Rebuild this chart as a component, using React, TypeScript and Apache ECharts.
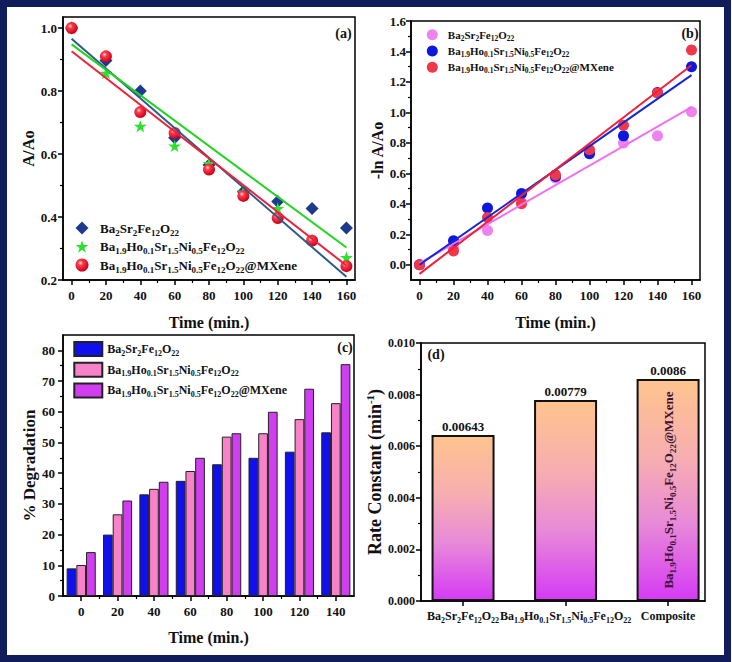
import React, { useEffect, useRef } from 'react';
import * as echarts from 'echarts';

// ---------- data ----------
const timeA = [0, 20, 40, 60, 80, 100, 120, 140, 160];
const aBaSr = [1.0, 0.897, 0.8, 0.652, 0.565, 0.48, 0.449, 0.427, 0.365];
const aHo = [1.0, 0.857, 0.688, 0.626, 0.57, 0.48, 0.427, 0.33, 0.272];
const aMx = [1.0, 0.91, 0.733, 0.667, 0.551, 0.467, 0.397, 0.325, 0.244];
const fitTime = [0, 160];
const aFitBaSr = [0.966, 0.21];
const aFitHo = [0.948, 0.303];
const aFitMx = [0.926, 0.246];

const bBaSr = [0, 0.11, 0.225, 0.41, 0.57, 0.74, 0.8, 0.846, 1.005];
const bHo = [0, 0.157, 0.372, 0.468, 0.58, 0.728, 0.846, 1.13, 1.3];
const bMx = [0, 0.09, 0.31, 0.4, 0.59, 0.755, 0.915, 1.128, 1.41];
const bFitBaSr = [0.01, 1.035];
const bFitHo = [0, 1.245];
const bFitMx = [-0.06, 1.31];

const timeC = ['0', '20', '40', '60', '80', '100', '120', '140'];
const cBaSr = [9.0, 20.0, 33.1, 37.5, 42.9, 45.0, 47.0, 53.3];
const cHo = [10.1, 26.6, 34.9, 40.7, 51.9, 53.0, 57.6, 62.8];
const cMx = [14.3, 31.1, 37.2, 45.0, 53.0, 60.0, 67.5, 75.5];

const rateNames = ['Ba_{2}Sr_{2}Fe_{12}O_{22}', 'Ba_{1.9}Ho_{0.1}Sr_{1.5}Ni_{0.5}Fe_{12}O_{22}', 'Composite'];
const rateValues = [0.00643, 0.00779, 0.0086];
const compositeFormula = 'Ba_{1.9}Ho_{0.1}Sr_{1.5}Ni_{0.5}Fe_{12}O_{22}@MXene';

const legendNames = ['Ba_{2}Sr_{2}Fe_{12}O_{22}', 'Ba_{1.9}Ho_{0.1}Sr_{1.5}Ni_{0.5}Fe_{12}O_{22}', 'Ba_{1.9}Ho_{0.1}Sr_{1.5}Ni_{0.5}Fe_{12}O_{22}@MXene'];

const xTicksAB = [0, 20, 40, 60, 80, 100, 120, 140, 160];
const xMinorAB = [10, 30, 50, 70, 90, 110, 130, 150];
const yTicksA = [0.2, 0.4, 0.6, 0.8, 1.0];
const yMinorA = [0.3, 0.5, 0.7, 0.9];
const yTicksB = [0, 0.2, 0.4, 0.6, 0.8, 1.0, 1.2, 1.4, 1.6];
const yMinorB = [0.1, 0.3, 0.5, 0.7, 0.9, 1.1, 1.3, 1.5];
const yTicksC = [0, 10, 20, 30, 40, 50, 60, 70, 80];
const yMinorC = [5, 15, 25, 35, 45, 55, 65, 75];
const xMinorC = [10, 30, 50, 70, 90, 110, 130];
const yTicksD = [0, 0.002, 0.004, 0.006, 0.008, 0.01];
const yMinorD = [0.001, 0.003, 0.005, 0.007, 0.009];
const xTicksD = [1, 2, 3];

// ---------- helpers ----------
const F = '"Liberation Serif", "Times New Roman", serif';
const INK = '#111';

function rich(s: string, n = 'n', sub = 's', lead = '') {
  const parts: string[] = [];
  if (lead) parts.push(`{${lead}|}`);
  const re = /_\{([^}]*)\}/g;
  let last = 0;
  let m: RegExpExecArray | null;
  while ((m = re.exec(s))) {
    if (m.index > last) parts.push(`{${n}|${s.slice(last, m.index)}}`);
    parts.push(`{${sub}|${m[1]}}`);
    last = re.lastIndex;
  }
  if (last < s.length) parts.push(`{${n}|${s.slice(last)}}`);
  return parts.join('');
}

function richStyles(fs: number, sfs: number, lh: number, gap = 0, color = INK) {
  return {
    n: { fontFamily: F, fontWeight: 'bold', fontSize: fs, lineHeight: lh, color },
    s: { fontFamily: F, fontWeight: 'bold', fontSize: sfs, verticalAlign: 'bottom', color },
    g: { width: gap, height: 1 },
  };
}

const labelStyle = (size: number, margin: number) => ({
  color: INK,
  fontFamily: F,
  fontWeight: 'bold',
  fontSize: size,
  margin,
});

const nameStyle = (size = 16) => ({ color: INK, fontFamily: F, fontWeight: 'bold', fontSize: size });

function mainValAxis(grid: number, min: number, max: number, ticks: number[], fmt: (v: number) => string, extra: any = {}) {
  return {
    type: 'value',
    gridIndex: grid,
    min,
    max,
    axisLine: { show: true, onZero: false, lineStyle: { color: '#000', width: 1.5 } },
    axisTick: { show: true, customValues: ticks, length: 5, lineStyle: { color: '#000', width: 1.5 } },
    axisLabel: { show: true, customValues: ticks, formatter: fmt, ...labelStyle(13, 6) },
    splitLine: { show: false },
    ...extra,
  };
}

function minorAxis(grid: number, min: number, max: number, ticks: number[], position: string) {
  return {
    type: 'value',
    gridIndex: grid,
    min,
    max,
    position,
    axisLine: { show: false, onZero: false },
    axisTick: { show: true, customValues: ticks, length: 3, lineStyle: { color: '#000', width: 1.2 } },
    axisLabel: { show: false },
    splitLine: { show: false },
  };
}

const pairs = (xs: number[], ys: number[]) => xs.map((x, i) => [x, ys[i]]);

const starPath = 'path://M50,0 L61,35 L98,35 L68,57 L79,91 L50,70 L21,91 L32,57 L2,35 L39,35 Z';

const sphere = {
  type: 'radial',
  x: 0.38,
  y: 0.35,
  r: 0.65,
  colorStops: [
    { offset: 0, color: '#ffe0e0' },
    { offset: 0.3, color: '#ff3b4a' },
    { offset: 1, color: '#c8001a' },
  ],
};

const legendMap: Record<string, string> = {};
['a', 'b', 'c'].forEach((p) => {
  legendNames.forEach((nm, i) => {
    legendMap[`${p}${i + 1}`] = rich(nm, 'n', 's', 'g');
  });
});

function buildOption(): any {
  const f1 = (v: number) => v.toFixed(1);
  const f0 = (v: number) => String(Math.round(v));
  const f3 = (v: number) => v.toFixed(3);

  const xAxis = [
    mainValAxis(0, -5, 165, xTicksAB, f0, {
      position: 'bottom',
      name: 'Time (min.)', nameLocation: 'middle', nameGap: 34, nameTextStyle: nameStyle(16),
      axisLabel: { show: true, customValues: xTicksAB, formatter: f0, ...labelStyle(13, 9) },
    }),
    minorAxis(0, -5, 165, xMinorAB, 'bottom'),
    mainValAxis(1, -5, 165, xTicksAB, f0, {
      position: 'bottom',
      name: 'Time (min.)', nameLocation: 'middle', nameGap: 34, nameTextStyle: nameStyle(16),
      axisLabel: { show: true, customValues: xTicksAB, formatter: f0, ...labelStyle(13, 9) },
    }),
    minorAxis(1, -5, 165, xMinorAB, 'bottom'),
    {
      type: 'category',
      gridIndex: 2,
      position: 'bottom',
      data: timeC,
      boundaryGap: true,
      axisLine: { show: true, onZero: false, lineStyle: { color: '#000', width: 1.5 } },
      axisTick: { show: true, alignWithLabel: true, length: 5, lineStyle: { color: '#000', width: 1.5 } },
      axisLabel: { ...labelStyle(13, 9) },
      splitLine: { show: false },
      name: 'Time (min.)', nameLocation: 'middle', nameGap: 33, nameTextStyle: nameStyle(16),
    },
    minorAxis(2, -10, 150, xMinorC, 'bottom'),
    mainValAxis(3, 0.59, 3.36, xTicksD, (v: number) => rich(rateNames[Math.round(v) - 1]), {
      position: 'bottom',
      axisLabel: {
        show: true,
        customValues: xTicksD,
        formatter: (v: number) => rich(rateNames[Math.round(v) - 1]),
        margin: 7,
        rich: richStyles(12, 8, 16),
      },
    }),
  ];

  const yAxis = [
    mainValAxis(0, 0.2, 1.035, yTicksA, f1, {
      position: 'left',
      name: 'A/Ao', nameLocation: 'middle', nameGap: 24, nameTextStyle: nameStyle(16.5),
    }),
    minorAxis(0, 0.2, 1.035, yMinorA, 'left'),
    mainValAxis(1, -0.1, 1.6, yTicksB, f1, {
      position: 'left',
      name: '-ln A/Ao', nameLocation: 'middle', nameGap: 24, nameTextStyle: nameStyle(16),
      axisLabel: { show: true, customValues: yTicksB, formatter: f1, ...labelStyle(13, 5) },
    }),
    minorAxis(1, -0.1, 1.6, yMinorB, 'left'),
    mainValAxis(2, 0, 85, yTicksC, f0, {
      position: 'left',
      name: '% Degradation', nameLocation: 'middle', nameGap: 25, nameTextStyle: nameStyle(17),
      axisLabel: { show: true, customValues: yTicksC, formatter: f0, ...labelStyle(13, 8) },
    }),
    minorAxis(2, 0, 85, yMinorC, 'left'),
    mainValAxis(3, 0, 0.01, yTicksD, f3, {
      position: 'left',
      name: '{t|Rate Constant (min}{u|-1}{t|)}', nameLocation: 'middle', nameGap: 35,
      nameTextStyle: {
        ...nameStyle(18),
        rich: {
          t: { fontFamily: F, fontWeight: 'bold', fontSize: 18, lineHeight: 22, color: INK },
          u: { fontFamily: F, fontWeight: 'bold', fontSize: 11, verticalAlign: 'top', color: INK },
        },
      },
      axisLabel: { show: true, customValues: yTicksD, formatter: f3, ...labelStyle(12, 6) },
    }),
    minorAxis(3, 0, 0.01, yMinorD, 'left'),
  ];

  const fitLine = (name: string, xi: number, yi: number, vals: number[], color: string) => ({
    type: 'line', name, xAxisIndex: xi, yAxisIndex: yi,
    data: pairs(fitTime, vals), symbol: 'none', showSymbol: false,
    lineStyle: { color, width: 2 }, itemStyle: { color }, z: 3, silent: true,
  });

  const dGradient = {
    type: 'linear', x: 0, y: 0, x2: 0, y2: 1,
    colorStops: [
      { offset: 0, color: '#ffc48e' },
      { offset: 0.35, color: '#f7aeb0' },
      { offset: 0.65, color: '#e88ad8' },
      { offset: 1, color: '#d53af5' },
    ],
  };

  const series: any[] = [
    // (a)
    { type: 'scatter', name: 'a1', xAxisIndex: 0, yAxisIndex: 0, data: pairs(timeA, aBaSr), symbol: 'diamond', symbolSize: 13, itemStyle: { color: '#1d3a8e', opacity: 1 }, z: 2 },
    { type: 'scatter', name: 'a2', xAxisIndex: 0, yAxisIndex: 0, data: pairs(timeA, aHo), symbol: starPath, symbolKeepAspect: true, symbolSize: 13, itemStyle: { color: '#2ee02e', opacity: 1 }, z: 2 },
    { type: 'scatter', name: 'a3', xAxisIndex: 0, yAxisIndex: 0, data: pairs(timeA, aMx), symbol: 'circle', symbolSize: 12, itemStyle: { color: sphere, opacity: 1 }, z: 2 },
    fitLine('aF1', 0, 0, aFitBaSr, '#2d5b88'),
    fitLine('aF2', 0, 0, aFitHo, '#22d422'),
    fitLine('aF3', 0, 0, aFitMx, '#f0203c'),
    // (b)
    { type: 'scatter', name: 'b1', xAxisIndex: 2, yAxisIndex: 2, data: pairs(timeA, bBaSr), symbol: 'circle', symbolSize: 11, itemStyle: { color: '#ee82ee', opacity: 1 }, z: 2 },
    { type: 'scatter', name: 'b2', xAxisIndex: 2, yAxisIndex: 2, data: pairs(timeA, bHo), symbol: 'circle', symbolSize: 11, itemStyle: { color: '#0c18e0', opacity: 1 }, z: 2 },
    { type: 'scatter', name: 'b3', xAxisIndex: 2, yAxisIndex: 2, data: pairs(timeA, bMx), symbol: 'circle', symbolSize: 11, itemStyle: { color: '#f03848', opacity: 1 }, z: 2 },
    fitLine('bF1', 2, 2, bFitBaSr, '#f070f0'),
    fitLine('bF2', 2, 2, bFitHo, '#1426d8'),
    fitLine('bF3', 2, 2, bFitMx, '#f0203a'),
    // (c)
    { type: 'bar', name: 'c1', xAxisIndex: 4, yAxisIndex: 4, data: cBaSr, barWidth: 9.7, barGap: '0%', itemStyle: { color: '#1010ee', borderColor: '#222', borderWidth: 1 } },
    { type: 'bar', name: 'c2', xAxisIndex: 4, yAxisIndex: 4, data: cHo, barWidth: 9.7, barGap: '0%', itemStyle: { color: '#f782c8', borderColor: '#222', borderWidth: 1 } },
    { type: 'bar', name: 'c3', xAxisIndex: 4, yAxisIndex: 4, data: cMx, barWidth: 9.7, barGap: '0%', itemStyle: { color: '#d03ef0', borderColor: '#222', borderWidth: 1 } },
    // (d)
    {
      type: 'bar', name: 'd1', xAxisIndex: 6, yAxisIndex: 6,
      data: rateValues.map((v, i) => [xTicksD[i], v]),
      barWidth: 63, barGap: '-100%',
      itemStyle: { color: dGradient, borderColor: '#111', borderWidth: 2 },
      label: {
        show: true, position: 'top', distance: 2,
        formatter: (p: any) => String(p.value[1]),
        color: INK, fontFamily: F, fontWeight: 'bold', fontSize: 13,
      },
    },
    {
      type: 'bar', name: 'd2', xAxisIndex: 6, yAxisIndex: 6,
      data: [[xTicksD[2], rateValues[2]]],
      barWidth: 63, barGap: '-100%',
      itemStyle: { color: 'rgba(0,0,0,0)' },
      label: {
        show: true, position: 'inside', rotate: 90,
        formatter: rich(compositeFormula),
        rich: richStyles(13, 9, 18, 0, '#3a1238'),
      },
      z: 5,
    },
  ];

  const legendCommon = {
    orient: 'vertical', selectedMode: false,
    formatter: (name: string) => legendMap[name],
  };

  const legend = [
    {
      ...legendCommon, data: ['a1', 'a2', 'a3'], left: 70.5, top: 216.5,
      itemWidth: 13, itemHeight: 13, itemGap: 3,
      textStyle: { fontFamily: F, fontWeight: 'bold', fontSize: 13, rich: richStyles(13, 9, 18, 6.5) },
    },
    {
      ...legendCommon, data: ['b1', 'b2', 'b3'], left: 421.8, top: 24.2,
      itemWidth: 11, itemHeight: 11, itemGap: 3.3,
      textStyle: { fontFamily: F, fontWeight: 'bold', fontSize: 11, rich: richStyles(11, 7.5, 15, 5) },
    },
    {
      ...legendCommon, data: ['c1', 'c2', 'c3'], left: 68.3, top: 336,
      icon: 'rect', itemWidth: 28, itemHeight: 14, itemGap: 4.7,
      textStyle: { fontFamily: F, fontWeight: 'bold', fontSize: 12, rich: richStyles(12, 8, 16, 0) },
    },
  ];

  const gridBase = { show: true, borderColor: '#000', borderWidth: 1.5, backgroundColor: 'transparent', containLabel: false, outerBoundsMode: 'none' };
  const grid = [
    { ...gridBase, left: 63, top: 17, width: 292, height: 263 },
    { ...gridBase, left: 411, top: 21, width: 289, height: 259 },
    { ...gridBase, left: 63, top: 335, width: 291, height: 261 },
    { ...gridBase, left: 421, top: 343, width: 284, height: 258 },
  ];

  const panelLabel = (text: string, x: number, y: number) => ({
    type: 'text', x, y,
    style: { text, fill: INK, font: `bold 14px ${F}`, textAlign: 'center', textVerticalAlign: 'middle' },
    z: 10,
  });

  const graphic = [
    {
      type: 'rect', shape: { x: 3.5, y: 3.5, width: 724, height: 655 },
      style: { fill: 'none', stroke: '#111d5b', lineWidth: 7 }, z: 20, silent: true,
    },
    panelLabel('(a)', 343.5, 33),
    panelLabel('(b)', 690, 33.5),
    panelLabel('(c)', 345, 347.5),
    panelLabel('(d)', 436, 354),
  ];

  return {
    animation: false,
    backgroundColor: '#fff',
    textStyle: { fontFamily: F },
    grid, xAxis, yAxis, series, legend, graphic,
  };
}

export default function App() {
  const ref = useRef<HTMLDivElement>(null);
  useEffect(() => {
    const chart = echarts.init(ref.current!, null, { renderer: 'svg' });
    chart.setOption(buildOption());
    return () => chart.dispose();
  }, []);
  return (
    <div
      ref={ref}
      style={{ position: 'absolute', left: 0, top: 0, width: 732, height: 662, background: '#fff' }}
    />
  );
}
